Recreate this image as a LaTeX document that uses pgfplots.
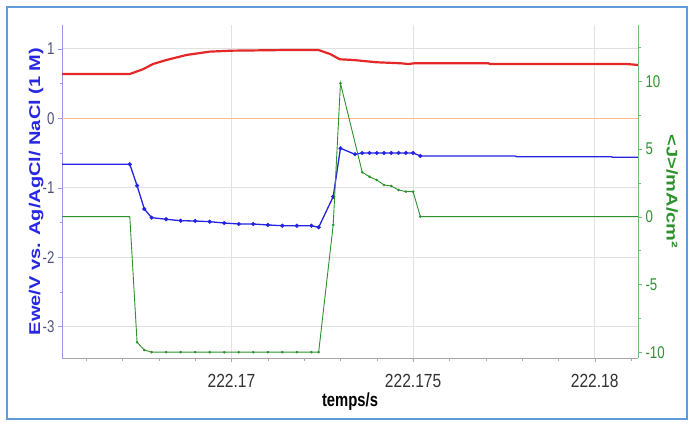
\documentclass[border=0pt]{standalone}
\usepackage{fontspec}
\setmainfont{Liberation Sans}
\usepackage{graphicx}
\usepackage{pgfplots}
\pgfplotsset{compat=1.18}
\definecolor{cred}{RGB}{228,40,40}
\definecolor{corange}{RGB}{255,185,140}
\definecolor{cblue}{RGB}{35,35,225}
\definecolor{cgreen}{RGB}{45,145,45}
\definecolor{caxblue}{RGB}{150,150,230}
\definecolor{caxgreen}{RGB}{120,185,120}
\definecolor{cframe}{RGB}{95,155,215}
\definecolor{cgrid}{RGB}{225,225,225}
\definecolor{ctick}{RGB}{50,50,50}
\definecolor{cltick}{RGB}{80,80,120}
\definecolor{clabblue}{RGB}{40,40,225}
\newcommand\hx[1]{\scalebox{0.78}[1]{#1}}
\newcommand\hxx[1]{\scalebox{0.82}[1]{#1}}
\newcommand\vx[1]{\scalebox{1}[0.78]{#1}}
\begin{document}
\begin{tikzpicture}[x=1pt,y=1pt]
\path[use as bounding box] (0,0) rectangle (692,425);
\draw[cframe, line width=1.6pt] (7,6) rectangle (687,418);
\begin{axis}[
  at={(62pt,67pt)}, anchor=south west,
  scale only axis, width=576pt, height=333pt,
  xmin=-4.667, xmax=11.193, ymin=-3.454, ymax=1.344,
  axis y line*=left, axis x line*=bottom,
  axis line style={-},
  x axis line style={gray!70},
  y axis line style={caxblue},
  tick align=outside,
  major tick length=4pt, minor tick length=2.5pt,
  x tick style={gray!70}, y tick style={caxblue},
  xtick={0,5,10}, xticklabels={\hxx{222.17},\hxx{222.175},\hxx{222.18}},
  minor xtick={-4,-3,-2,-1,1,2,3,4,6,7,8,9,11},
  ytick={-3,-2,-1,0,1}, yticklabels={\hx{-3},\hx{-2},\hx{-1},\hx{0},\hx{1}},
  minor ytick={-2.5,-1.5,-0.5,0.5},
  grid=major, major grid style={cgrid, line width=0.8pt},
  xticklabel style={font=\fontsize{19}{22}\selectfont, text=ctick, yshift=-9pt},
  yticklabel style={font=\fontsize{17}{20}\selectfont, text=cltick},
  xlabel={\hx{\bfseries temps/s}},
  xlabel style={at={(axis description cs:0.5,-0.13)}, anchor=center, font=\fontsize{19}{22}\selectfont, text=black},
  ylabel={\vx{\bfseries Ewe/V vs. Ag/AgCl/ NaCl (1 M)}},
  ylabel style={at={(axis description cs:-0.045,0.5)}, anchor=center, font=\fontsize{20}{24}\selectfont, text=clabblue},
  clip=true,
]
\addplot[corange, line width=1pt] coordinates {(-4.667,0) (11.193,0)};
\addplot[cred, line width=2.2pt] coordinates {
(-4.667,0.638) (-2.80,0.638) (-2.44,0.706) (-2.16,0.782) (-1.79,0.840) (-1.24,0.912)
(-0.60,0.960) (0.0,0.974) (1.61,0.984) (2.39,0.984) (2.71,0.927) (2.98,0.850)
(3.35,0.840) (3.99,0.807) (4.64,0.793) (4.87,0.782) (5.05,0.793) (7.07,0.793)
(7.12,0.782) (10.88,0.782) (11.193,0.768)};
\addplot[cblue, line width=1.3pt] coordinates {
(-4.667,-0.663) (-2.8,-0.663) (-2.6,-0.971) (-2.4,-1.307) (-2.2,-1.432) (-1.8,-1.455)
(-1.4,-1.476) (-1.0,-1.480) (-0.6,-1.490) (-0.2,-1.509) (0.2,-1.523) (0.6,-1.523)
(1.0,-1.537) (1.4,-1.548) (1.8,-1.548) (2.2,-1.548) (2.4,-1.571) (2.8,-1.130)
(3.0,-0.432) (3.4,-0.519) (3.6,-0.500) (3.8,-0.500) (4.0,-0.500) (4.2,-0.500)
(4.4,-0.500) (4.6,-0.500) (4.8,-0.500) (5.0,-0.500) (5.2,-0.543) (7.8,-0.543)
(7.85,-0.553) (10.45,-0.553) (10.5,-0.562) (11.193,-0.562)};
\addplot[cblue, only marks, mark=*, mark size=1.9pt] coordinates {
(-2.8,-0.663) (-2.6,-0.971) (-2.4,-1.307) (-2.2,-1.432) (-1.8,-1.455)
(-1.4,-1.476) (-1.0,-1.480) (-0.6,-1.490) (-0.2,-1.509) (0.2,-1.523) (0.6,-1.523)
(1.0,-1.537) (1.4,-1.548) (1.8,-1.548) (2.2,-1.548) (2.4,-1.571) (2.8,-1.130)
(3.0,-0.432) (3.4,-0.519) (3.6,-0.500) (3.8,-0.500) (4.0,-0.500) (4.2,-0.500)
(4.4,-0.500) (4.6,-0.500) (4.8,-0.500) (5.0,-0.500) (5.2,-0.543)};
\end{axis}
\begin{axis}[
  at={(62pt,67pt)}, anchor=south west,
  scale only axis, width=576pt, height=333pt,
  xmin=-4.667, xmax=11.193, ymin=-10.43, ymax=14.15,
  axis y line*=right, axis x line=none,
  axis line style={-},
  y axis line style={caxgreen},
  tick align=outside,
  major tick length=4pt, minor tick length=2.5pt,
  y tick style={caxgreen},
  ytick={-10,-5,0,5,10}, yticklabels={\hx{-10},\hx{-5},\hx{0},\hx{5},\hx{10}},
  minor ytick={-7.5,-2.5,2.5,7.5,12.5},
  yticklabel style={font=\fontsize{17}{20}\selectfont, text=cgreen},
  ylabel={\vx{\bfseries <J>/mA/cm²}},
  ylabel style={at={(axis description cs:1.059,0.5)}, anchor=center, rotate=180, font=\fontsize{20}{24}\selectfont, text=cgreen},
  clip=true,
]
\addplot[cgreen, line width=0.9pt] coordinates {
(-4.667,0) (-2.8,0) (-2.6,-9.27) (-2.4,-9.84) (-2.2,-10) (-1.8,-10) (-1.4,-10)
(-1.0,-10) (-0.6,-10) (-0.2,-10) (0.2,-10) (0.6,-10) (1.0,-10) (1.4,-10) (1.8,-10)
(2.2,-10) (2.4,-10) (2.8,-0.61) (3.0,9.85) (3.6,3.28) (3.8,2.95) (4.0,2.71)
(4.2,2.34) (4.4,2.27) (4.6,1.97) (4.8,1.85) (5.0,1.85) (5.2,0) (11.193,0)};
\addplot[cgreen, only marks, mark=*, mark size=1.1pt] coordinates {
(-2.6,-9.27) (-2.4,-9.84) (-2.2,-10) (-1.8,-10) (-1.4,-10)
(-1.0,-10) (-0.6,-10) (-0.2,-10) (0.2,-10) (0.6,-10) (1.0,-10) (1.4,-10) (1.8,-10)
(2.2,-10) (2.4,-10) (2.8,-0.61) (3.0,9.85) (3.6,3.28) (3.8,2.95) (4.0,2.71)
(4.2,2.34) (4.4,2.27) (4.6,1.97) (4.8,1.85) (5.0,1.85) (5.2,0)};
\end{axis}
\end{tikzpicture}
\end{document}
